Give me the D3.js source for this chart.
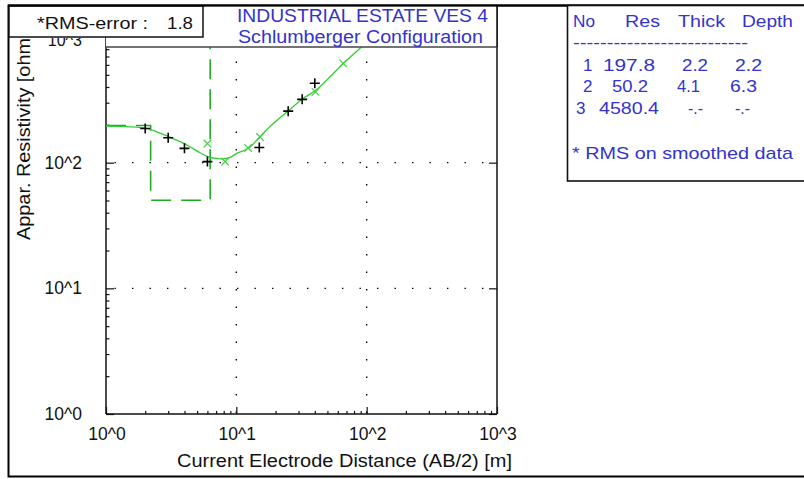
<!DOCTYPE html>
<html>
<head>
<meta charset="utf-8">
<script src="https://cdn.jsdelivr.net/npm/d3@7/dist/d3.min.js"></script>
<style>
  html, body { margin: 0; padding: 0; background: #fff; }
  svg { display: block; }
  text { font-family: "Liberation Sans", Arial, sans-serif; }
</style>
</head>
<body>
<svg id="chart" width="804" height="479"></svg>
<script>
// ---------------- data ----------------
const xTickValues = [1, 10, 100, 1000];
const xTickLabels = ["10^0", "10^1", "10^2", "10^3"];
const yTickValues = [1, 10, 100, 1000];
const yTickLabels = ["10^0", "10^1", "10^2", "10^3"];

// field data (black +)
const fieldAB  = [2, 3, 4, 6, 15, 25, 32, 40];
const fieldRho = [187, 158, 130, 102, 132, 257, 319, 428];

// smoothed data (green x)
const smoothAB  = [6, 8.2, 12.3, 15.2, 40.5, 66];
const smoothRho = [142, 102, 131, 160, 366, 617];

// model response curve (green solid)
const curveAB  = [1.0, 1.53, 2.05, 2.45, 3.01, 3.7, 4.41, 5.27, 6.1, 7.07, 7.95, 8.95, 10.07, 12.4, 15.2, 19.2, 25.1, 32.1, 40.9, 52.4, 66.2, 91.7, 116];
const curveRho = [195.5, 193, 187.5, 176, 161, 147, 134, 120, 111.4, 108, 107, 110, 118.6, 130, 161, 205, 259, 321, 378, 482, 617, 836, 1035];

// layered model (table + green dashed step)
const layerNo    = ["1", "2", "3"];
const layerRes   = [197.8, 50.2, 4580.4];
const layerThick = ["2.2", "4.1", "-.-"];
const layerDepth = ["2.2", "6.3", "-.-"];
const depthValues = [2.2, 6.3];

const rmsError = "1.8";

// ---------------- layout ----------------
const svg = d3.select("#chart");
const PL = 106, PR = 497, PB = 414, PT = 47, YTOP = 37;

const x = d3.scaleLog().domain([1, 1000]).range([PL, PR]);
const y = d3.scaleLog().domain([1, 1000]).range([PB, YTOP]);

const defs = svg.append("defs");
defs.append("clipPath").attr("id", "plotclip")
  .append("rect").attr("x", PL).attr("y", PT).attr("width", PR - PL).attr("height", PB - PT);
defs.append("clipPath").attr("id", "labelclip")
  .append("rect").attr("x", 0).attr("y", 38).attr("width", PL).attr("height", 479 - 38);

// outer frame
svg.append("rect").attr("x", 8.5).attr("y", 5.5).attr("width", 800).attr("height", 471)
  .attr("fill", "#fff").attr("stroke", "#000").attr("stroke-width", 2);

// dotted grid at decades
const grid = svg.append("g").attr("clip-path", "url(#plotclip)");
[10, 100].forEach(v => {
  grid.append("line").attr("x1", x(v)).attr("x2", x(v)).attr("y1", PT).attr("y2", PB)
    .attr("stroke", "#000").attr("stroke-width", 1.4)
    .attr("stroke-dasharray", "1.4,16.1").attr("stroke-dashoffset", -14.5);
  grid.append("line").attr("x1", PL).attr("x2", PR).attr("y1", y(v)).attr("y2", y(v))
    .attr("stroke", "#000").attr("stroke-width", 1.4)
    .attr("stroke-dasharray", "1.4,16.1").attr("stroke-dashoffset", -8.5);
});

// minor tick values
const minorVals = [];
[1, 10, 100].forEach(d => { for (let k = 2; k <= 9; k++) minorVals.push(k * d); });

// axes (ticks inside)
const axBottomMinor = d3.axisBottom(x).tickValues(minorVals).tickSizeInner(-3).tickSizeOuter(0).tickFormat("");
const axBottomMajor = d3.axisBottom(x).tickValues(xTickValues).tickSizeInner(-7).tickSizeOuter(0).tickFormat("");
const axLeftMinor = d3.axisLeft(y).tickValues(minorVals).tickSizeInner(-3.5).tickSizeOuter(0).tickFormat("");
const axLeftMajor = d3.axisLeft(y).tickValues(yTickValues).tickSizeInner(-8).tickSizeOuter(0).tickFormat("");
const axRightMajor = d3.axisRight(y).tickValues(yTickValues).tickSizeInner(-8).tickSizeOuter(0).tickFormat("");

function styleAxis(g) {
  g.select(".domain").remove();
  g.selectAll("line").attr("stroke", "#111").attr("stroke-width", 1.2);
}
svg.append("g").attr("transform", `translate(0,${PB})`).call(axBottomMinor).call(styleAxis);
svg.append("g").attr("transform", `translate(0,${PB})`).call(axBottomMajor).call(styleAxis);
svg.append("g").attr("transform", `translate(${PL},0)`).call(axLeftMinor).call(styleAxis);
svg.append("g").attr("transform", `translate(${PL},0)`).call(axLeftMajor).call(styleAxis);
svg.append("g").attr("transform", `translate(${PR},0)`).call(axRightMajor).call(styleAxis);

// plot frame lines
svg.append("line").attr("x1", PL).attr("x2", PL).attr("y1", YTOP).attr("y2", PB).attr("stroke", "#111").attr("stroke-width", 1.5);
svg.append("line").attr("x1", PL).attr("x2", PR).attr("y1", PB).attr("y2", PB).attr("stroke", "#111").attr("stroke-width", 1.5);
svg.append("line").attr("x1", PR).attr("x2", PR).attr("y1", 5).attr("y2", PB).attr("stroke", "#111").attr("stroke-width", 1.5);

// data layer
const plot = svg.append("g").attr("clip-path", "url(#plotclip)");

// dashed layer model step
const stepPts = [];
stepPts.push([1, layerRes[0]]);
depthValues.forEach((d, i) => { stepPts.push([d, layerRes[i]]); stepPts.push([d, layerRes[i + 1]]); });
plot.append("path")
  .attr("d", d3.line().x(d => x(d[0])).y(d => y(d[1]))(stepPts))
  .attr("fill", "none").attr("stroke", "#22aa22").attr("stroke-width", 1.6)
  .attr("stroke-dasharray", "20,10");

// model curve
const curvePts = curveAB.map((a, i) => [a, curveRho[i]]);
plot.append("path")
  .attr("d", d3.line().x(d => x(d[0])).y(d => y(d[1])).curve(d3.curveMonotoneX)(curvePts))
  .attr("fill", "none").attr("stroke", "#33cc33").attr("stroke-width", 1.3);

// smoothed data x markers
smoothAB.forEach((a, i) => {
  const cx = x(a), cy = y(smoothRho[i]), s = 3.8;
  plot.append("path")
    .attr("d", `M${cx - s},${cy - s}L${cx + s},${cy + s}M${cx - s},${cy + s}L${cx + s},${cy - s}`)
    .attr("stroke", "#44cc44").attr("stroke-width", 1.2).attr("fill", "none");
});

// field data + markers
fieldAB.forEach((a, i) => {
  const cx = x(a), cy = y(fieldRho[i]), s = 5;
  plot.append("path")
    .attr("d", `M${cx - s},${cy}L${cx + s},${cy}M${cx},${cy - s}L${cx},${cy + s}`)
    .attr("stroke", "#000").attr("stroke-width", 1.6).attr("fill", "none");
});

// tick labels
xTickValues.forEach((v, i) => {
  svg.append("text").attr("x", x(v) + 1).attr("y", 440).attr("text-anchor", "middle")
    .attr("font-size", 17.5).attr("fill", "#111").text(xTickLabels[i]);
});
const yLab = svg.append("g").attr("clip-path", "url(#labelclip)");
yTickValues.forEach((v, i) => {
  const top = (v === 1000);
  yLab.append("text").attr("x", 82).attr("y", top ? 45.5 : y(v) + 6).attr("text-anchor", "end")
    .attr("font-size", top ? 16 : 17.5).attr("fill", "#111").text(yTickLabels[i]);
});

// axis titles
svg.append("text").attr("x", 177).attr("y", 467).attr("font-size", 17.5).attr("fill", "#111")
  .attr("textLength", 335).attr("lengthAdjust", "spacingAndGlyphs")
  .text("Current Electrode Distance (AB/2) [m]");
svg.append("text").attr("transform", "translate(30,240) rotate(-90)").attr("font-size", 17.5).attr("fill", "#111")
  .attr("textLength", 202).attr("lengthAdjust", "spacingAndGlyphs")
  .text("Appar. Resistivity [ohm");

// title box (above plot)
svg.append("rect").attr("x", PL).attr("y", 6.5).attr("width", PR - PL).attr("height", PT - 6.5)
  .attr("fill", "#fff").attr("stroke", "none");
svg.append("line").attr("x1", PL).attr("x2", PR).attr("y1", PT).attr("y2", PT).attr("stroke", "#444").attr("stroke-width", 1.3);
svg.append("line").attr("x1", PR).attr("x2", PR).attr("y1", 5).attr("y2", PT).attr("stroke", "#111").attr("stroke-width", 1.5);
svg.append("text").attr("x", 237).attr("y", 22).attr("font-size", 17.5).attr("fill", "#3333cc")
  .attr("textLength", 251).attr("lengthAdjust", "spacingAndGlyphs").text("INDUSTRIAL ESTATE VES 4");
svg.append("text").attr("x", 238).attr("y", 43).attr("font-size", 17.5).attr("fill", "#3333cc")
  .attr("textLength", 245).attr("lengthAdjust", "spacingAndGlyphs").text("Schlumberger Configuration");

// RMS box
svg.append("rect").attr("x", 9).attr("y", 6).attr("width", 194).attr("height", 31)
  .attr("fill", "#fff").attr("stroke", "#111").attr("stroke-width", 1.5);
svg.append("text").attr("x", 37).attr("y", 28.5).attr("font-size", 16.5).attr("fill", "#111")
  .attr("textLength", 111).attr("lengthAdjust", "spacingAndGlyphs").text("*RMS-error :");
svg.append("text").attr("x", 167).attr("y", 28.5).attr("font-size", 16.5).attr("fill", "#111")
  .attr("textLength", 26).attr("lengthAdjust", "spacingAndGlyphs").text(rmsError);

// re-draw top outer border over boxes
svg.append("line").attr("x1", 8).attr("x2", 804).attr("y1", 5.5).attr("y2", 5.5).attr("stroke", "#000").attr("stroke-width", 2.2);

// layer table box
svg.append("rect").attr("x", 567.5).attr("y", 5.5).attr("width", 260).attr("height", 175.5)
  .attr("fill", "#fff").attr("stroke", "#111").attr("stroke-width", 1.6);
const blue = "#3333cc";
const tbl = svg.append("g").attr("fill", blue).attr("font-size", 17);
function cell(txt, xs, yb, w) {
  const t = tbl.append("text").attr("x", xs).attr("y", yb).text(txt);
  if (w) t.attr("textLength", w).attr("lengthAdjust", "spacingAndGlyphs");
  return t;
}
cell("No", 573, 27, 22);
cell("Res", 625, 27, 35);
cell("Thick", 678, 27, 47);
cell("Depth", 742, 27, 51);
cell("--------------------------", 573, 48, 175);
const rowY = [71, 92, 114];
const noX = [583, 583, 576];
const resX = [603, 612, 599];
const resW = [52, 36, 60];
const thX = [682, 677, 688];
const thW = [26, 23, 15];
const dpX = [735, 730, 735];
const dpW = [27, 27, 15];
layerNo.forEach((n, i) => {
  cell(n, noX[i], rowY[i]);
  cell(String(layerRes[i]), resX[i], rowY[i], resW[i]);
  cell(layerThick[i], thX[i], rowY[i], thW[i]);
  cell(layerDepth[i], dpX[i], rowY[i], dpW[i]);
});
cell("* RMS on smoothed data", 572, 159, 221);
</script>
</body>
</html>
